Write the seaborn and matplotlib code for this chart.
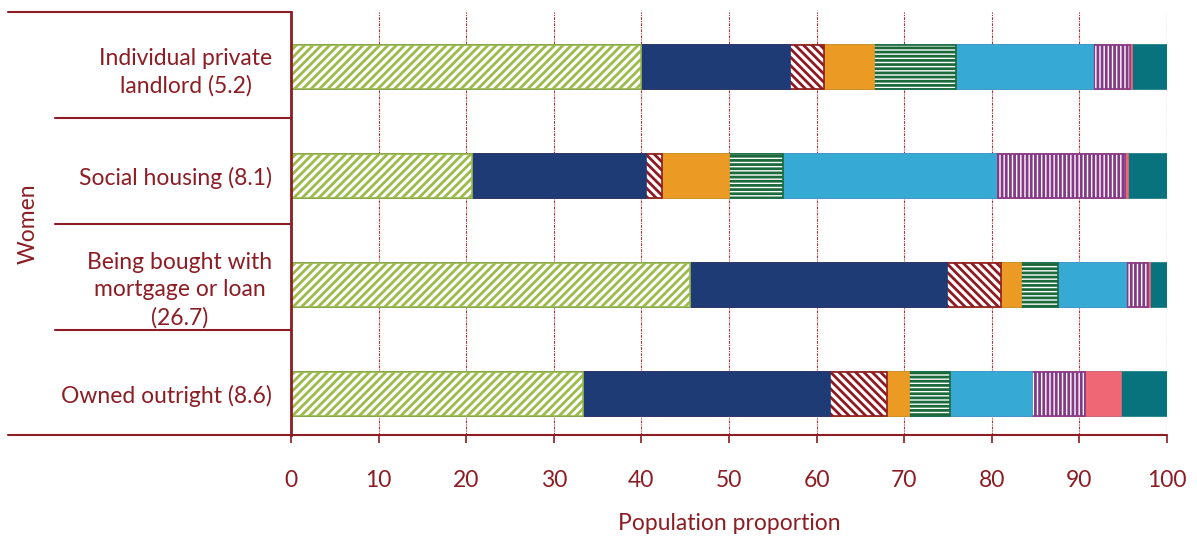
import numpy as np
import pandas as pd
import matplotlib
matplotlib.use("Agg")
import matplotlib.pyplot as plt
import seaborn as sns
from matplotlib.lines import Line2D

# ---- data ----
tenures = [
    "Individual private\nlandlord (5.2)",
    "Social housing (8.1)",
    "Being bought with\nmortgage or loan\n(26.7)",
    "Owned outright (8.6)",
]
seg1 = [40.0, 20.7, 45.5, 33.3]
seg2 = [17.0, 19.8, 29.4, 28.2]
seg3 = [3.9, 1.9, 6.1, 6.5]
seg4 = [5.6, 7.6, 2.3, 2.5]
seg5 = [9.4, 6.2, 4.3, 4.7]
seg6 = [15.6, 24.3, 7.7, 9.4]
seg7 = [4.3, 14.7, 2.5, 6.0]
seg8 = [0.2, 0.3, 0.3, 4.2]
seg9 = [4.0, 4.5, 1.9, 5.2]
x_ticks = [0, 10, 20, 30, 40, 50, 60, 70, 80, 90, 100]

# ---- styles ----
colors = ["#9bbb4a", "#1f3b76", "#8e1b23", "#eb9a23", "#1c6a3c",
          "#36a9d5", "#853a87", "#ef6675", "#08727d"]
hatches = ["////", None, "\\\\\\\\", None, "----", None, "||||", None, None]
TXT = "#8c1d24"

plt.rcParams["hatch.linewidth"] = 2.0
sns.set_style("white")
plt.rcParams["font.family"] = ["Lato", "DejaVu Sans"]

W, H = 1197, 539
fig = plt.figure(figsize=(W / 100, H / 100), dpi=100)
ax = fig.add_axes([291 / W, 1 - 435 / H, (1167 - 291) / W, (435 - 12) / H])

segments = np.array([seg1, seg2, seg3, seg4, seg5, seg6, seg7, seg8, seg9])
cum = np.cumsum(segments, axis=0)

for i in reversed(range(len(segments))):
    df = pd.DataFrame({"tenure": tenures, "end": cum[i]})
    if hatches[i]:
        kw = dict(facecolor="white", edgecolor=colors[i], hatch=hatches[i], linewidth=1.2)
    else:
        kw = dict(facecolor=colors[i], edgecolor=colors[i], linewidth=1.2)
    sns.barplot(data=df, x="end", y="tenure", orient="h", order=tenures,
                width=0.4, saturation=1, errorbar=None, ax=ax, **kw)

ax.set_xlim(0, 100)
ax.set_ylim(3.376, -0.505)
ax.set_xticks(x_ticks)
ax.set_xticklabels([str(t) for t in x_ticks])
ax.set_xlabel("")
ax.set_ylabel("")

ax.set_axisbelow(True)
ax.grid(axis="x", color="#a8343e", linestyle=(0, (2.5, 1, 1, 1)), linewidth=0.8)
ax.grid(axis="y", visible=False)

for s in ["top", "right", "bottom"]:
    ax.spines[s].set_visible(False)
ax.spines["left"].set_color(TXT)
ax.spines["left"].set_linewidth(2)

ax.tick_params(axis="x", direction="out", length=6, width=1.2, color=TXT,
               labelcolor=TXT, labelsize=16.5, pad=19, bottom=True)
ax.tick_params(axis="y", length=0, labelcolor=TXT, labelsize=16.5, pad=13.5)
for lab in ax.get_yticklabels():
    lab.set_multialignment("center")
    lab.set_linespacing(1.38)

# frame lines
def hline(x0, x1, y, lw=1.5):
    fig.add_artist(Line2D([x0 / W, x1 / W], [1 - y / H, 1 - y / H],
                          transform=fig.transFigure, color=TXT, linewidth=lw))

hline(8, 291, 12)
hline(8, 1167, 435)
for y in [118, 224, 329.7]:
    hline(55, 291, y)

fig.text(28 / W, 1 - 223.5 / H, "Women", rotation=90, ha="center", va="center",
         color=TXT, fontsize=16.5)
fig.text(729 / W, 1 - 523 / H, "Population proportion", ha="center", va="center",
         color=TXT, fontsize=16.5)

fig.savefig("out.png", dpi=100)
